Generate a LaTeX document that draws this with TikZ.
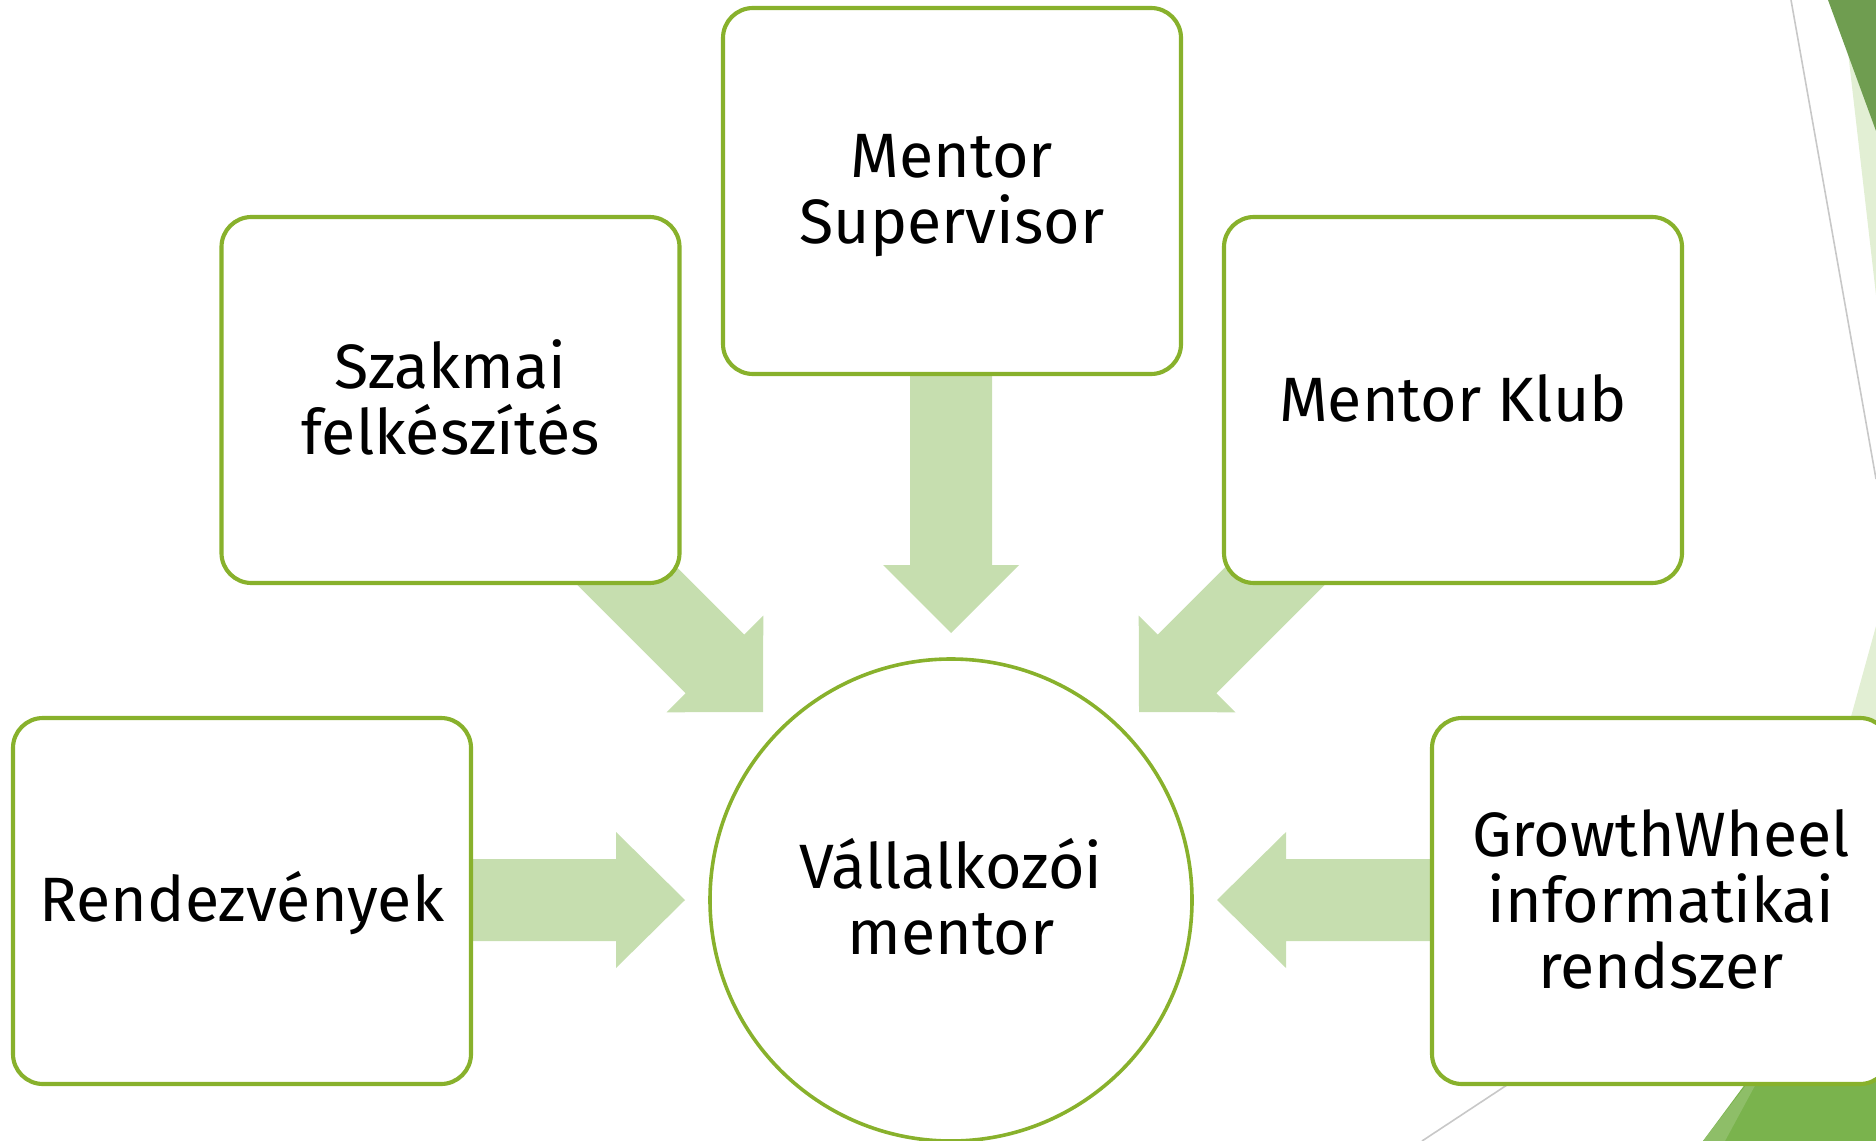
\documentclass[tikz,border=0pt]{standalone}
\usepackage{fontspec}
\setmainfont{Fira Sans}
\definecolor{boxline}{HTML}{88B12C}
\definecolor{arrowfill}{HTML}{C6DEAF}
\definecolor{darkgreen}{HTML}{6F9D50}
\definecolor{midgreen}{HTML}{7AB34D}
\definecolor{lightgreen}{HTML}{E2EFD4}
\definecolor{grayline}{HTML}{C8C8C8}
\newcommand\ls{\rule[-8pt]{0pt}{48pt}}
\tikzset{
  box/.style={draw=boxline, line width=3.1pt, fill=white, rounded corners=22.5pt,
    minimum width=343.5pt, minimum height=274.5pt, align=center, inner sep=0pt,
    font=\fontsize{47}{49.5}\selectfont},
  hub/.style={draw=boxline, line width=2.7pt, fill=white, circle,
    minimum size=361.5pt, align=center, inner sep=0pt,
    font=\fontsize{47}{49.5}\selectfont},
  blockarrow/.style={fill=arrowfill, draw=none}
}
\begin{document}
\begin{tikzpicture}[x=0.75pt,y=-0.75pt]
\useasboundingbox (0,0) rectangle (1876,1141);
% background decorations
\fill[lightgreen] (1842,0) -- (1876,0) -- (1876,295) -- cycle;
\fill[darkgreen] (1828,0) -- (1876,0) -- (1876,131) -- cycle;
\draw[grayline, line width=1.2pt] (1791,0) -- (1876,479);
\fill[lightgreen] (1876,626) -- (1876,1141) -- (1734,1141) -- cycle;
\fill[midgreen] (1703,1141) -- (1800,1010) -- (1876,1010) -- (1876,1141) -- cycle;
\fill[midgreen!85!white] (1703,1141) -- (1750,1080) -- (1758,1080) -- (1725,1141) -- cycle;
\draw[grayline, line width=1.2pt] (1422,1141) -- (1560,1050);
% block arrows
\fill[blockarrow] (910,360) -- (992,360) -- (992,565) -- (1019,565) -- (951,633) -- (883,565) -- (910,565) -- cycle;
\fill[blockarrow] (450,859) -- (616,859) -- (616,832) -- (685,900) -- (616,968) -- (616,941) -- (450,941) -- cycle;
\fill[blockarrow] (1452,859) -- (1286,859) -- (1286,832) -- (1217,900) -- (1286,968) -- (1286,941) -- (1452,941) -- cycle;
\fill[blockarrow] (616.9,507.3) -- (744.2,634.6) -- (763.3,615.5) -- (763,712) -- (666.5,712.3) -- (685.6,693.2) -- (558.3,565.9) -- cycle;
\fill[blockarrow] (1285.1,507.3) -- (1157.8,634.6) -- (1138.7,615.5) -- (1139,712) -- (1235.5,712.3) -- (1216.4,693.2) -- (1343.7,565.9) -- cycle;
% boxes
\node[box] (ms) at (952,191) {\ls Mentor\\\ls Supervisor};
\node[box] (sz) at (450.5,400) {\ls Szakmai\\\ls felkészítés};
\node[box] (mk) at (1453,400) {\ls Mentor Klub};
\node[box] (re) at (242,901) {\ls Rendezvények};
\node[box] (gw) at (1661,901) {\ls GrowthWheel\\\ls informatikai\\\ls rendszer};
\node[hub] (vm) at (951,900) {\ls Vállalkozói\\\ls mentor};
\end{tikzpicture}
\end{document}
